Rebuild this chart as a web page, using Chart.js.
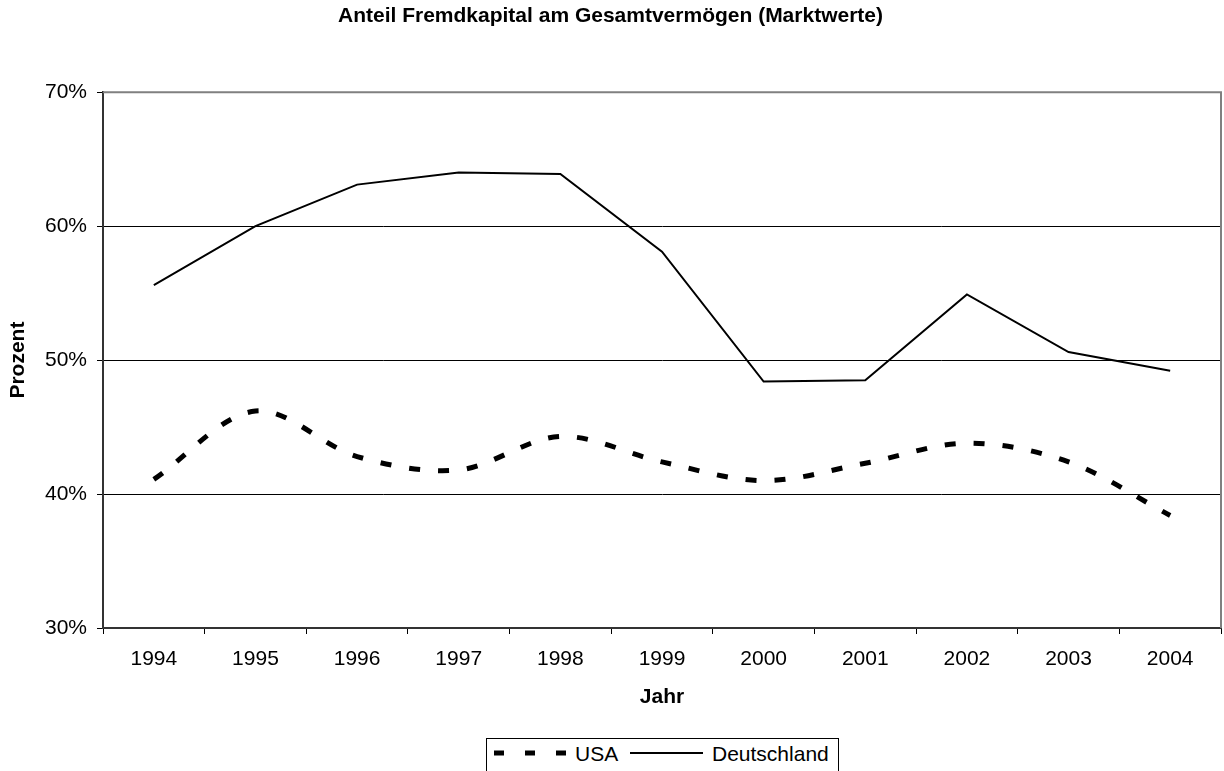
<!DOCTYPE html>
<html>
<head>
<meta charset="utf-8">
<script src="https://cdn.jsdelivr.net/npm/chart.js@4"></script>
<style>
  html, body { margin: 0; padding: 0; background: #fff; }
  #wrap { position: relative; width: 1224px; height: 771px; overflow: hidden; font-family: "Liberation Sans", Arial, sans-serif; }
  #chart { position: absolute; left: 0; top: 0; }
  #legend { position: absolute; left: 486px; top: 738px; width: 353px; height: 50px; box-sizing: border-box; border: 1px solid #000; background: #fff; }
</style>
</head>
<body>
<div id="wrap">
  <canvas id="chart" width="1224" height="771"></canvas>
  <div id="legend">
    <svg width="351" height="48" xmlns="http://www.w3.org/2000/svg">
      <line x1="7" y1="14" x2="80" y2="14" stroke="#000" stroke-width="5" stroke-dasharray="10 21"></line>
      <text x="88" y="14" dominant-baseline="central" font-family="Liberation Sans, Arial, sans-serif" font-size="21">USA</text>
      <line x1="143" y1="14" x2="216" y2="14" stroke="#000" stroke-width="2"></line>
      <text x="225" y="14" dominant-baseline="central" font-family="Liberation Sans, Arial, sans-serif" font-size="21">Deutschland</text>
    </svg>
  </div>
</div>
<script>
  // Werte (Prozent)
  const years = ['1994', '1995', '1996', '1997', '1998', '1999', '2000', '2001', '2002', '2003', '2004'];
  const usa = [41.1, 46.2, 42.8, 41.8, 44.3, 42.4, 41.0, 42.3, 43.8, 42.4, 38.4];
  const deutschland = [55.6, 60.0, 63.1, 64.0, 63.9, 58.1, 48.4, 48.5, 54.9, 50.6, 49.2];
  const yTicks = [30, 40, 50, 60, 70];

  const FONT = '"Liberation Sans", Arial, sans-serif';

  // grey frame on top and right side of the plot area
  const frame = {
    id: 'frame',
    beforeDatasetsDraw(chart) {
      const { ctx, chartArea: a } = chart;
      ctx.save();
      ctx.strokeStyle = '#808080';
      ctx.lineWidth = 2;
      ctx.beginPath();
      ctx.moveTo(a.left, a.top);
      ctx.lineTo(a.right, a.top);
      ctx.lineTo(a.right, a.bottom);
      ctx.stroke();
      ctx.restore();
    }
  };

  new Chart(document.getElementById('chart'), {
    type: 'line',
    data: {
      labels: years,
      datasets: [
        {
          label: 'USA',
          data: usa,
          borderColor: '#000',
          borderWidth: 5,
          borderDash: [11, 18],
          borderCapStyle: 'butt',
          tension: 0.33,
          pointRadius: 0,
          fill: false
        },
        {
          label: 'Deutschland',
          data: deutschland,
          borderColor: '#000',
          borderWidth: 2,
          tension: 0,
          pointRadius: 0,
          fill: false
        }
      ]
    },
    options: {
      responsive: false,
      animation: false,
      devicePixelRatio: 1,
      layout: { padding: { left: 0, right: 3, top: 0, bottom: 0 } },
      plugins: {
        legend: { display: false },
        tooltip: { enabled: false },
        title: {
          display: true,
          text: 'Anteil Fremdkapital am Gesamtvermögen (Marktwerte)',
          color: '#000',
          font: { family: FONT, size: 21, weight: 'bold' },
          padding: { top: 4, bottom: 63 }
        }
      },
      scales: {
        x: {
          offset: true,
          grid: {
            offset: true,
            drawOnChartArea: false,
            drawTicks: true,
            tickLength: 6,
            tickColor: '#000'
          },
          border: { color: '#333', width: 2 },
          ticks: {
            color: '#000',
            padding: 13,
            maxRotation: 0,
            font: { family: FONT, size: 21 }
          },
          title: {
            display: true,
            text: 'Jahr',
            color: '#000',
            font: { family: FONT, size: 21, weight: 'bold' },
            padding: { top: 0, bottom: 61 }
          },
          afterFit(scale) { scale.height = 143; }
        },
        y: {
          min: yTicks[0],
          max: yTicks[yTicks.length - 1],
          afterBuildTicks(scale) { scale.ticks = yTicks.map(v => ({ value: v })); },
          grid: {
            color: '#000',
            lineWidth: 1,
            tickLength: 6,
            tickColor: '#000'
          },
          border: { color: '#333', width: 2 },
          ticks: {
            color: '#000',
            padding: 10,
            font: { family: FONT, size: 21 },
            callback: v => v + '%'
          },
          title: {
            display: true,
            text: 'Prozent',
            color: '#000',
            font: { family: FONT, size: 21, weight: 'bold' },
            padding: { top: 6, bottom: 0 }
          },
          afterFit(scale) { scale.width = 103; }
        }
      }
    },
    plugins: [frame]
  });
</script>
</body>
</html>
